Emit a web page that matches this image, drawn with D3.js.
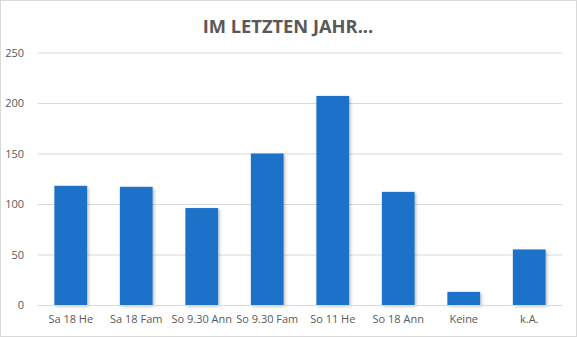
<!DOCTYPE html>
<html><head><meta charset="utf-8">
<script src="https://cdn.jsdelivr.net/npm/d3@7"></script>
<style>body{margin:0;background:#fff}svg{display:block}</style>
</head><body>
<script>
const categories = ["Sa 18 He","Sa 18 Fam","So 9.30 Ann","So 9.30 Fam","So 11 He","So 18 Ann","Keine","k.A."];
const values = [118,117,96,150,207,112,13,55];
const yTicks = [0,50,100,150,200,250];
const title = "IM LETZTEN JAHR...";

const W=577,H=337;
const m={left:38,right:15,top:52,bottom:32};
const svg=d3.select("body").append("svg").attr("width",W).attr("height",H);
const defs=svg.append("defs");
const f=defs.append("filter").attr("id","sh").attr("x","-20%").attr("y","-20%").attr("width","150%").attr("height","150%");
f.append("feDropShadow").attr("dx",1.5).attr("dy",1.5).attr("stdDeviation",1.5).attr("flood-color","#000").attr("flood-opacity",0.25);

svg.append("rect").attr("x",0.5).attr("y",0.5).attr("width",W-1).attr("height",H-1).attr("fill","#fff").attr("stroke","#d9d9d9");

const x=d3.scaleBand().domain(categories).range([m.left,W-m.right]).paddingInner(0.5).paddingOuter(0.25);
const y=d3.scaleLinear().domain([0,250]).range([305,52.5]);

const font="'Open Sans', sans-serif";
const gy=svg.append("g").attr("transform",`translate(${m.left},0)`)
 .call(d3.axisLeft(y).tickValues(yTicks).tickSize(-(W-m.right-m.left)).tickPadding(14));
gy.select(".domain").remove();
gy.selectAll("line").attr("stroke","#d9d9d9");
gy.selectAll("text").attr("fill","#595959").style("font-family",font).style("font-size","11px");

svg.append("g").selectAll("rect").data(values).join("rect")
 .attr("x",(d,i)=>x(categories[i])).attr("width",x.bandwidth())
 .attr("y",d=>y(d)).attr("height",d=>y(0)-y(d))
 .attr("fill","#1a72c8").attr("filter","url(#sh)");

const gx=svg.append("g").attr("transform",`translate(0,${y(0)})`)
 .call(d3.axisBottom(x).tickSize(0).tickPadding(10));
gx.select(".domain").attr("stroke","#d9d9d9");
gx.selectAll("text").attr("fill","#595959").style("font-family",font).style("font-size","11px");

svg.append("text").attr("x",288).attr("y",33).attr("text-anchor","middle")
 .attr("fill","#595959").style("font-family",font).style("font-weight","bold").style("font-size","18.3px")
 .text(title);
</script>
</body></html>
